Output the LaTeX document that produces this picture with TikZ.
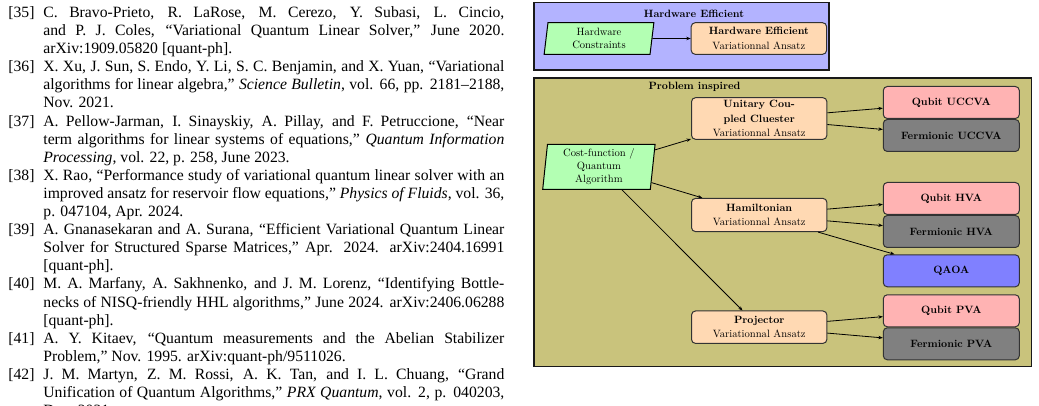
\documentclass[tikz,border=0pt]{standalone}
\usepackage{fontspec}
\newfontfamily\reffont{Liberation Serif}
\newfontfamily\diagfont{lmroman10-regular}[Extension=.otf,BoldFont=lmroman10-bold]
\usetikzlibrary{arrows.meta,shapes.geometric,positioning}
\definecolor{hwblue}{RGB}{179,179,255}
\definecolor{probolive}{HTML}{C9C37C}
\definecolor{inputgreen}{RGB}{179,255,179}
\definecolor{ansatzpeach}{RGB}{255,217,179}
\definecolor{qubitred}{RGB}{255,179,179}
\definecolor{fermigray}{RGB}{128,128,128}
\definecolor{qaoablue}{RGB}{128,128,255}
\tikzset{
  ref_text/.style={anchor=base west,inner sep=0pt,text width=230.5pt,align=justify,
    font=\reffont\fontsize{7.85}{9.05}\selectfont},
  ref_label/.style={anchor=base west,inner sep=0pt,font=\reffont\fontsize{7.85}{9.05}\selectfont},
  frame_box/.style={draw=black!90,line width=0.6pt},
  frame_title/.style={inner sep=0pt,font=\diagfont\fontsize{5.3}{6.6}\selectfont\bfseries},
  node_box/.style={draw=black!80,line width=0.5pt,rounded corners=2pt,inner sep=1pt,
    minimum width=67.7pt,minimum height=15.8pt,align=center,
    font=\diagfont\fontsize{5.3}{7.1}\selectfont},
  node_input/.style={draw=black,line width=0.5pt,fill=inputgreen,shape=trapezium,
    trapezium left angle=85,trapezium right angle=95,trapezium stretches=true,
    inner sep=1pt,align=center,font=\diagfont\fontsize{5.3}{6.5}\selectfont},
  node_ansatz/.style={node_box,fill=ansatzpeach},
  node_qubit/.style={node_box,fill=qubitred,minimum width=68pt,minimum height=16pt,
    font=\diagfont\fontsize{5.3}{6.6}\selectfont\bfseries},
  node_fermi/.style={node_qubit,fill=fermigray},
  node_qaoa/.style={node_qubit,fill=qaoablue},
  arr/.style={-{Stealth[length=2.2pt,width=1.7pt]},draw=black,line width=0.4pt},
}
\begin{document}
\begin{tikzpicture}[x=0.5pt,y=-0.5pt]
\useasboundingbox[fill=white] (0,0) rectangle (1039,406);

% bibliography column
\node[ref_label] (l35) at (8,17.5) {[35]};
\node[ref_text] (r35) at (43,17.5) {C. Bravo-Prieto, R. LaRose, M. Cerezo, Y. Subasi, L. Cincio,\linebreak and P. J. Coles, “Variational Quantum Linear Solver,” June 2020.\linebreak arXiv:1909.05820 [quant-ph].};
\node[ref_label] (l36) at (8,71.8) {[36]};
\node[ref_text] (r36) at (43,71.8) {X. Xu, J. Sun, S. Endo, Y. Li, S. C. Benjamin, and X. Yuan, “Variational\linebreak algorithms for linear algebra,” \textit{Science Bulletin}, vol. 66, pp. 2181–2188,\linebreak Nov. 2021.};
\node[ref_label] (l37) at (8,126.1) {[37]};
\node[ref_text] (r37) at (43,126.1) {A. Pellow-Jarman, I. Sinayskiy, A. Pillay, and F. Petruccione, “Near\linebreak term algorithms for linear systems of equations,” \textit{Quantum Information}\linebreak \textit{Processing}, vol. 22, p. 258, June 2023.};
\node[ref_label] (l38) at (8,180.4) {[38]};
\node[ref_text] (r38) at (43,180.4) {X. Rao, “Performance study of variational quantum linear solver with an\linebreak improved ansatz for reservoir flow equations,” \textit{Physics of Fluids}, vol. 36,\linebreak p. 047104, Apr. 2024.};
\node[ref_label] (l39) at (8,234.7) {[39]};
\node[ref_text] (r39) at (43,234.7) {A. Gnanasekaran and A. Surana, “Efficient Variational Quantum Linear\linebreak Solver for Structured Sparse Matrices,” Apr. 2024. arXiv:2404.16991\linebreak{}[quant-ph].};
\node[ref_label] (l40) at (8,289) {[40]};
\node[ref_text] (r40) at (43,289) {M. A. Marfany, A. Sakhnenko, and J. M. Lorenz, “Identifying Bottle-\linebreak necks of NISQ-friendly HHL algorithms,” June 2024. arXiv:2406.06288\linebreak{}[quant-ph].};
\node[ref_label] (l41) at (8,343.3) {[41]};
\node[ref_text] (r41) at (43,343.3) {A. Y. Kitaev, “Quantum measurements and the Abelian Stabilizer\linebreak Problem,” Nov. 1995. arXiv:quant-ph/9511026.};
\node[ref_label] (l42) at (8,379.5) {[42]};
\node[ref_text] (r42) at (43,379.5) {J. M. Martyn, Z. M. Rossi, A. K. Tan, and I. L. Chuang, “Grand\linebreak Unification of Quantum Algorithms,” \textit{PRX Quantum}, vol. 2, p. 040203,\linebreak Dec. 2021.};

% frames
\node[frame_box,fill=hwblue,minimum width=147.5pt,minimum height=33.6pt] (hwframe) at (681.5,36.4) {};
\node[frame_box,fill=probolive,minimum width=248.8pt,minimum height=144.3pt] (piframe) at (782.8,222.3) {};
\node[frame_title] (hwtitle) at (694,13.5) {Hardware Efficient};
\node[frame_title] (pititle) at (694.5,87) {Problem inspired};

% hardware efficient part
\node[node_input,minimum width=55pt,minimum height=15.8pt] (hc) at (599,38.5) {Hardware\\Constraints};
\node[node_ansatz] (hea) at (758.9,38.5) {\textbf{Hardware Efficient}\\Variationnal Ansatz};

% problem inspired part
\node[node_input,minimum width=56.2pt,minimum height=22.5pt] (cost) at (598.9,166.8) {Cost-function /\\Quantum\\Algorithm};
\node[node_ansatz,minimum height=20.8pt] (ucc) at (759.2,118.5) {\textbf{Unitary Cou-}\\\textbf{pled Cluester}\\Variationnal Ansatz};
\node[node_ansatz,minimum height=16.6pt] (hva) at (759.2,215) {\textbf{Hamiltonian}\\Variationnal Ansatz};
\node[node_ansatz,minimum height=16.2pt] (pva) at (759.2,327.2) {\textbf{Projector}\\Variationnal Ansatz};

\node[node_qubit] (qucc) at (951.3,102.5) {Qubit UCCVA};
\node[node_fermi,below=0pt of qucc] (fucc) {Fermionic UCCVA};
\node[node_qubit] (qhva) at (951.3,198.5) {Qubit HVA};
\node[node_fermi,below=0pt of qhva] (fhva) {Fermionic HVA};
\node[node_qaoa] (qaoa) at (951.3,270.8) {QAOA};
\node[node_qubit] (qpva) at (951.3,310.8) {Qubit PVA};
\node[node_fermi,below=0pt of qpva] (fpva) {Fermionic PVA};

\draw[arr] (hc) -- (hea);
\draw[arr] (cost) -- (ucc); \draw[arr] (cost) -- (hva); \draw[arr] (cost) -- (pva);
\draw[arr] (ucc) -- (qucc); \draw[arr] (ucc) -- (fucc);
\draw[arr] (hva) -- (qhva); \draw[arr] (hva) -- (fhva); \draw[arr] (hva) -- (qaoa);
\draw[arr] (pva) -- (qpva); \draw[arr] (pva) -- (fpva);
\end{tikzpicture}
\end{document}
